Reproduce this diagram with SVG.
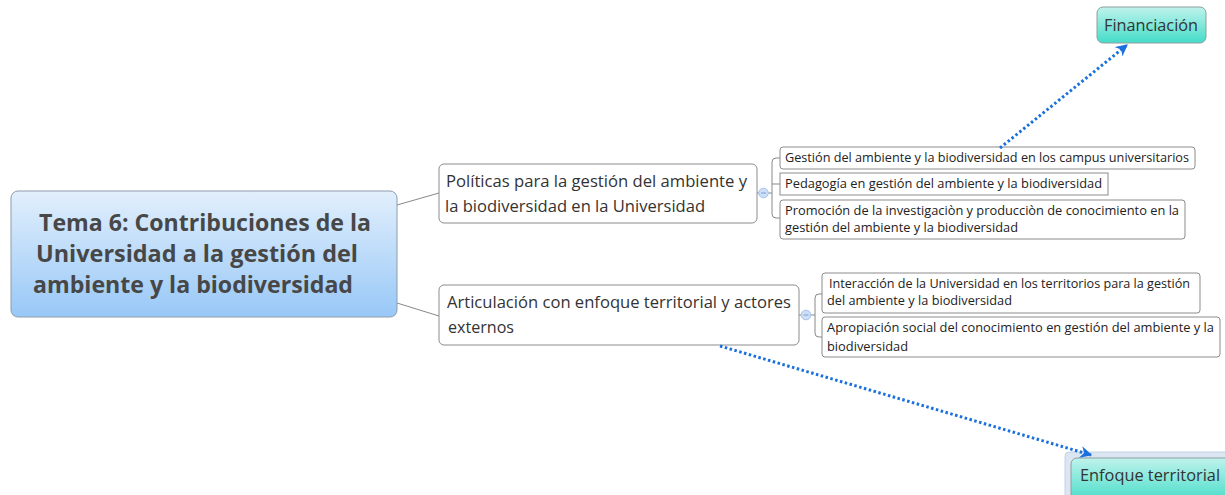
<svg xmlns="http://www.w3.org/2000/svg" width="1225" height="495" viewBox="0 0 1225 495">
<defs>
<linearGradient id="gCentral" x1="0" y1="0" x2="0" y2="1">
<stop offset="0" stop-color="#e2effc"/>
<stop offset="1" stop-color="#98c8f7"/>
</linearGradient>
<linearGradient id="gTeal" x1="0" y1="0" x2="0" y2="1">
<stop offset="0" stop-color="#bff3ec"/>
<stop offset="1" stop-color="#44dcc8"/>
</linearGradient>
<marker id="arrow" viewBox="0 0 10 10" refX="9" refY="5" markerWidth="4" markerHeight="4" orient="auto" markerUnits="strokeWidth">
<path d="M0,0 L10,5 L0,10 L3,5 Z" fill="#1a70dc"/>
</marker>
<style>
.t{font-family:"Open Sans","Noto Sans","DejaVu Sans",sans-serif;fill:#333}
.central{font-size:24px;font-weight:bold;fill:#474747}
.main{font-size:16px}
.sub{font-size:12px;fill:#222}
.box{fill:#fff;stroke:#8c8c8c;stroke-width:1}
.line{fill:none;stroke:#888;stroke-width:1}
.rel{fill:none;stroke:#1a70dc;stroke-width:3;stroke-dasharray:2.5 2.5}
.toggle{fill:#cddff7;stroke:#a6c2ea;stroke-width:1}
.minus{stroke:#7d9fd4;stroke-width:1}
</style>
</defs>
<g id="connectors">
<path class="line" d="M397,205 L439,193"/>
<path class="line" d="M397,303 L439,316"/>
<path class="line" d="M757,193 H759"/>
<path class="line" d="M768,193 H772"/>
<path class="line" d="M780,158 H776 Q772,158 772,162 V214 Q772,218 776,218 H780"/>
<path class="line" d="M772,184 H780"/>
<path class="line" d="M799,315 H801"/>
<path class="line" d="M811,315 H815"/>
<path class="line" d="M822,294 H819 Q815,294 815,298 V333 Q815,337 819,337 H822"/>
<circle class="toggle" cx="763.5" cy="193" r="4.8"/>
<path class="minus" d="M761,193 H766"/>
<circle class="toggle" cx="806" cy="315" r="4.8"/>
<path class="minus" d="M803.5,315 H808.5"/>
</g>
<g id="central">
<rect x="11" y="191" width="386" height="126" rx="7" fill="url(#gCentral)" stroke="#8d9cab" stroke-width="1"/>
<text class="t central" x="39" y="231" textLength="332" lengthAdjust="spacingAndGlyphs">Tema 6: Contribuciones de la</text>
<text class="t central" x="36" y="262" textLength="322" lengthAdjust="spacingAndGlyphs">Universidad a la gestión del</text>
<text class="t central" x="33" y="293" textLength="320" lengthAdjust="spacingAndGlyphs">ambiente y la biodiversidad</text>
</g>
<g id="politicas">
<rect class="box" x="439" y="164" width="318" height="59" rx="5"/>
<text class="t main" x="446" y="187" textLength="301" lengthAdjust="spacingAndGlyphs">Políticas para la gestión del ambiente y</text>
<text class="t main" x="445" y="212" textLength="260" lengthAdjust="spacingAndGlyphs">la biodiversidad en la Universidad</text>
</g>
<g id="articulacion">
<rect class="box" x="439" y="285" width="360" height="60" rx="5"/>
<text class="t main" x="447" y="308" textLength="344" lengthAdjust="spacingAndGlyphs">Articulación con enfoque territorial y actores</text>
<text class="t main" x="448" y="333" textLength="66" lengthAdjust="spacingAndGlyphs">externos</text>
</g>
<g id="gestion-campus">
<rect class="box" x="780" y="147" width="415" height="22" rx="3"/>
<text class="t sub" x="785" y="162" textLength="404" lengthAdjust="spacingAndGlyphs">Gestión del ambiente y la biodiversidad en los campus universitarios</text>
</g>
<g id="pedagogia">
<rect class="box" x="780" y="173" width="328" height="22"/>
<text class="t sub" x="785" y="188" textLength="317" lengthAdjust="spacingAndGlyphs">Pedagogía en gestión del ambiente y la biodiversidad</text>
</g>
<g id="promocion">
<rect class="box" x="780" y="200" width="405" height="39" rx="3"/>
<text class="t sub" x="785" y="215" textLength="394" lengthAdjust="spacingAndGlyphs">Promoción de la investigaciòn y producciòn de conocimiento en la</text>
<text class="t sub" x="785" y="232" textLength="233" lengthAdjust="spacingAndGlyphs">gestión del ambiente y la biodiversidad</text>
</g>
<g id="interaccion">
<rect class="box" x="822" y="273" width="378" height="40" rx="3"/>
<text class="t sub" x="829" y="288" textLength="361" lengthAdjust="spacingAndGlyphs">Interacción de la Universidad en los territorios para la gestión</text>
<text class="t sub" x="827" y="305" textLength="185" lengthAdjust="spacingAndGlyphs">del ambiente y la biodiversidad</text>
</g>
<g id="apropiacion">
<rect class="box" x="822" y="317" width="398" height="40" rx="3"/>
<text class="t sub" x="827" y="332" textLength="387" lengthAdjust="spacingAndGlyphs">Apropiación social del conocimiento en gestión del ambiente y la</text>
<text class="t sub" x="827" y="351" textLength="81" lengthAdjust="spacingAndGlyphs">biodiversidad</text>
</g>
<g id="financiacion">
<rect x="1097" y="7" width="109" height="36" rx="6" fill="url(#gTeal)" stroke="#8e9e9e" stroke-width="1"/>
<text class="t main" x="1104" y="31" textLength="94" lengthAdjust="spacingAndGlyphs">Financiación</text>
</g>
<g id="enfoque-territorial">
<rect x="1065" y="452" width="170" height="50" rx="4" fill="#dbe6f2" stroke="#c2d3e6" stroke-width="1"/>
<rect x="1071" y="458" width="170" height="45" rx="6" fill="url(#gTeal)" stroke="#8e9e9e" stroke-width="1"/>
<text class="t main" x="1080" y="481" textLength="140" lengthAdjust="spacingAndGlyphs">Enfoque territorial</text>
</g>
<g id="relationships">
<path class="rel" d="M1000,148 L1127,45" marker-end="url(#arrow)"/>
<path class="rel" d="M720,346 L1091,455" marker-end="url(#arrow)"/>
</g>
</svg>
